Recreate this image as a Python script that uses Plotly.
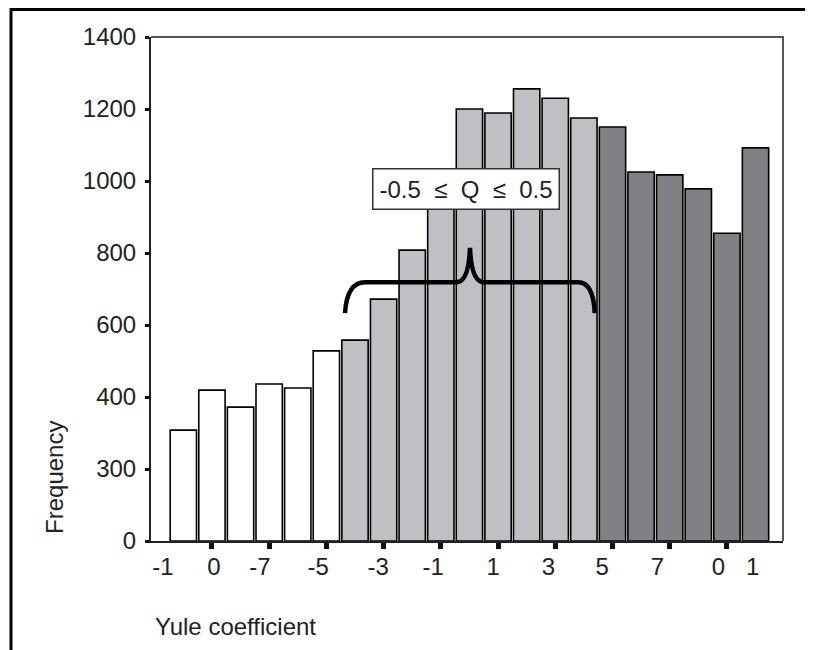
import plotly.graph_objects as go

# bar heights (21 bins of the Yule coefficient)
freq = [308, 419, 372, 436, 425, 528,
        558, 672, 808, 1000, 1200, 1189, 1256, 1230, 1175,
        1150, 1025, 1017, 978, 855, 1092]
n_white, n_light, n_dark = 6, 9, 6

# y axis ticks (labels as printed in the figure)
y_tickvals = [0, 200, 400, 600, 800, 1000, 1200, 1400]
y_ticktext = ["0", "300", "400", "600", "800", "1000", "1200", "1400"]

# x axis: tick marks sit on odd bins, labels are printed a bit off them
x_tick_marks = [1, 3, 5, 7, 9, 11, 13, 15, 17, 19]
x_label_pos = [-0.71, 1.07, 2.68, 4.71, 6.81, 8.73, 10.83, 12.76, 14.64, 16.57, 18.7, 19.9]
x_label_text = ["-1", "0", "-7", "-5", "-3", "-1", "1", "3", "5", "7", "0", "1"]

FONT = "Liberation Sans, Arial, sans-serif"
FS = 24

x = list(range(len(freq)))
colors = ["#ffffff"] * n_white + ["#c0c0c4"] * n_light + ["#7f8185"] * n_dark

fig = go.Figure()
fig.add_trace(go.Bar(
    x=x, y=freq,
    marker=dict(color=colors, line=dict(color="black", width=1.6)),
    width=0.92,
    hoverinfo="y",
))

xr = [-1.13, 20.96]

# page is drawn with an 8px body offset, margins compensate for it
fig.update_layout(
    width=813, height=650,
    margin=dict(l=143, r=38, t=29, b=117),
    plot_bgcolor="white", paper_bgcolor="white",
    showlegend=False,
    font=dict(family=FONT, size=FS, color="#222"),
    xaxis=dict(
        range=xr, tickvals=x_tick_marks, showticklabels=False,
        ticks="outside", ticklen=6, tickwidth=5, tickcolor="#111",
        showline=True, linecolor="#222", linewidth=2, mirror=False,
        showgrid=False, zeroline=False,
    ),
    xaxis2=dict(
        range=xr, overlaying="x", anchor="y", side="bottom",
        tickvals=x_label_pos, ticktext=x_label_text,
        ticks="", showline=False, showgrid=False, zeroline=False,
        ticklabelstandoff=9,
        tickfont=dict(family=FONT, size=FS, color="#222"),
    ),
    yaxis=dict(
        range=[0, 1400], tickvals=y_tickvals, ticktext=y_ticktext,
        ticks="outside", ticklen=4, tickwidth=3, tickcolor="#111",
        showline=True, linecolor="#222", linewidth=2,
        showgrid=False, zeroline=False,
        ticklabelstandoff=4,
        tickfont=dict(family=FONT, size=FS, color="#222"),
    ),
)

# dummy trace so xaxis2 is drawn
fig.add_trace(go.Scatter(x=[xr[0]], y=[0], xaxis="x2", yaxis="y",
                         mode="markers", marker=dict(opacity=0),
                         hoverinfo="skip"))

# top and right frame of the plot (grey)
fig.add_shape(type="path", xref="paper", yref="paper",
              path="M 0,1 L 1,1 L 1,0",
              line=dict(color="#555", width=2))

# outer border of the figure (left and top only are inside the page)
fig.add_shape(type="path", xref="paper", yref="paper",
              path="M -0.2215,-0.25 L -0.2215,1.0546 L 1.1,1.0546",
              line=dict(color="black", width=3))

# curly brace over the -0.5..0.5 range
brace = ("M 5.65,633 Q 5.72,719 6.35,719 L 9.55,719 "
         "Q 9.97,719 10.02,814 Q 10.07,719 10.5,719 L 13.8,719 "
         "Q 14.33,719 14.38,633")
fig.add_shape(type="path", xref="x", yref="y", path=brace,
              line=dict(color="black", width=4.5))

fig.add_annotation(
    x=9.88, y=979, xref="x", yref="y",
    text="-0.5\u00a0\u00a0≤\u00a0\u00a0Q\u00a0\u00a0≤\u00a0\u00a00.5",
    showarrow=False, bgcolor="white",
    bordercolor="#333", borderwidth=1.5, borderpad=6,
    font=dict(family=FONT, size=FS, color="#222"),
)

fig.add_annotation(
    x=-0.152, y=0.127, xref="paper", yref="paper",
    xanchor="center", yanchor="middle",
    text="Frequency", textangle=-90, showarrow=False,
    font=dict(family=FONT, size=FS, color="#222"),
)
fig.add_annotation(
    x=0.133, y=-0.169, xref="paper", yref="paper",
    xanchor="center", yanchor="middle",
    text="Yule coefficient", showarrow=False,
    font=dict(family=FONT, size=FS, color="#222"),
)

fig.write_html("out.html")
